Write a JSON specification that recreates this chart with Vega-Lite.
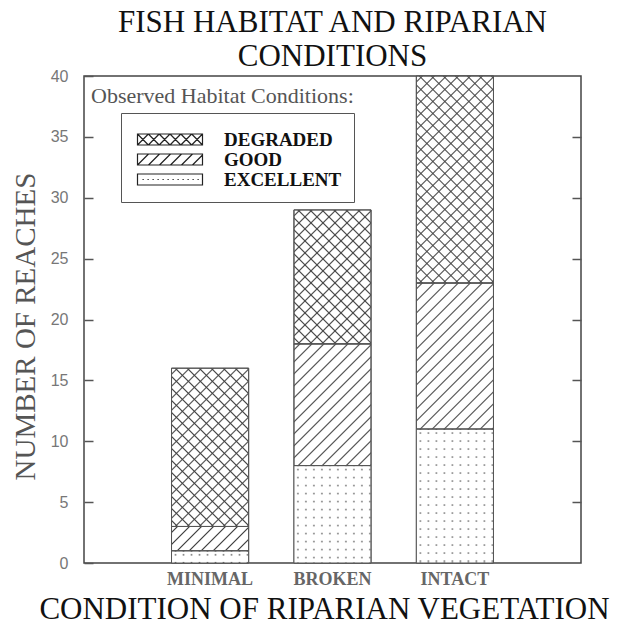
{
  "$schema": "https://vega.github.io/schema/vega-lite/v6.json",
  "width": 497,
  "height": 487,
  "padding": {"left": 11, "top": 7, "right": 10, "bottom": 4},
  "config": {"view": {"stroke": "#444", "strokeWidth": 1.5}, "font": "Liberation Serif"},
  "title": {"text": ["FISH HABITAT AND RIPARIAN", "CONDITIONS"], "font": "Liberation Serif", "fontSize": 31, "fontWeight": "normal", "color": "#111", "lineHeight": 34, "offset": -5, "anchor": "middle"},
  "params": [
    {"name": "hatchWhite", "value": [
      {"offset":0.015,"color":"#fff"},{"offset":0.02,"color":"#444"},{"offset":0.025,"color":"#fff"},
      {"offset":0.055,"color":"#fff"},{"offset":0.06,"color":"#444"},{"offset":0.065,"color":"#fff"},
      {"offset":0.095,"color":"#fff"},{"offset":0.1,"color":"#444"},{"offset":0.105,"color":"#fff"},
      {"offset":0.135,"color":"#fff"},{"offset":0.14,"color":"#444"},{"offset":0.145,"color":"#fff"},
      {"offset":0.175,"color":"#fff"},{"offset":0.18,"color":"#444"},{"offset":0.185,"color":"#fff"},
      {"offset":0.215,"color":"#fff"},{"offset":0.22,"color":"#444"},{"offset":0.225,"color":"#fff"},
      {"offset":0.255,"color":"#fff"},{"offset":0.26,"color":"#444"},{"offset":0.265,"color":"#fff"},
      {"offset":0.295,"color":"#fff"},{"offset":0.3,"color":"#444"},{"offset":0.305,"color":"#fff"},
      {"offset":0.335,"color":"#fff"},{"offset":0.34,"color":"#444"},{"offset":0.345,"color":"#fff"},
      {"offset":0.375,"color":"#fff"},{"offset":0.38,"color":"#444"},{"offset":0.385,"color":"#fff"},
      {"offset":0.415,"color":"#fff"},{"offset":0.42,"color":"#444"},{"offset":0.425,"color":"#fff"},
      {"offset":0.455,"color":"#fff"},{"offset":0.46,"color":"#444"},{"offset":0.465,"color":"#fff"},
      {"offset":0.495,"color":"#fff"},{"offset":0.5,"color":"#444"},{"offset":0.505,"color":"#fff"},
      {"offset":0.535,"color":"#fff"},{"offset":0.54,"color":"#444"},{"offset":0.545,"color":"#fff"},
      {"offset":0.575,"color":"#fff"},{"offset":0.58,"color":"#444"},{"offset":0.585,"color":"#fff"},
      {"offset":0.615,"color":"#fff"},{"offset":0.62,"color":"#444"},{"offset":0.625,"color":"#fff"},
      {"offset":0.655,"color":"#fff"},{"offset":0.66,"color":"#444"},{"offset":0.665,"color":"#fff"},
      {"offset":0.695,"color":"#fff"},{"offset":0.7,"color":"#444"},{"offset":0.705,"color":"#fff"},
      {"offset":0.735,"color":"#fff"},{"offset":0.74,"color":"#444"},{"offset":0.745,"color":"#fff"},
      {"offset":0.775,"color":"#fff"},{"offset":0.78,"color":"#444"},{"offset":0.785,"color":"#fff"},
      {"offset":0.815,"color":"#fff"},{"offset":0.82,"color":"#444"},{"offset":0.825,"color":"#fff"},
      {"offset":0.855,"color":"#fff"},{"offset":0.86,"color":"#444"},{"offset":0.865,"color":"#fff"},
      {"offset":0.895,"color":"#fff"},{"offset":0.9,"color":"#444"},{"offset":0.905,"color":"#fff"},
      {"offset":0.935,"color":"#fff"},{"offset":0.94,"color":"#444"},{"offset":0.945,"color":"#fff"},
      {"offset":0.975,"color":"#fff"},{"offset":0.98,"color":"#444"},{"offset":0.985,"color":"#fff"}
    ]},
    {"name": "hatchClear", "value": [
      {"offset":0.015,"color":"rgba(68,68,68,0)"},{"offset":0.02,"color":"#444"},{"offset":0.025,"color":"rgba(68,68,68,0)"},
      {"offset":0.055,"color":"rgba(68,68,68,0)"},{"offset":0.06,"color":"#444"},{"offset":0.065,"color":"rgba(68,68,68,0)"},
      {"offset":0.095,"color":"rgba(68,68,68,0)"},{"offset":0.1,"color":"#444"},{"offset":0.105,"color":"rgba(68,68,68,0)"},
      {"offset":0.135,"color":"rgba(68,68,68,0)"},{"offset":0.14,"color":"#444"},{"offset":0.145,"color":"rgba(68,68,68,0)"},
      {"offset":0.175,"color":"rgba(68,68,68,0)"},{"offset":0.18,"color":"#444"},{"offset":0.185,"color":"rgba(68,68,68,0)"},
      {"offset":0.215,"color":"rgba(68,68,68,0)"},{"offset":0.22,"color":"#444"},{"offset":0.225,"color":"rgba(68,68,68,0)"},
      {"offset":0.255,"color":"rgba(68,68,68,0)"},{"offset":0.26,"color":"#444"},{"offset":0.265,"color":"rgba(68,68,68,0)"},
      {"offset":0.295,"color":"rgba(68,68,68,0)"},{"offset":0.3,"color":"#444"},{"offset":0.305,"color":"rgba(68,68,68,0)"},
      {"offset":0.335,"color":"rgba(68,68,68,0)"},{"offset":0.34,"color":"#444"},{"offset":0.345,"color":"rgba(68,68,68,0)"},
      {"offset":0.375,"color":"rgba(68,68,68,0)"},{"offset":0.38,"color":"#444"},{"offset":0.385,"color":"rgba(68,68,68,0)"},
      {"offset":0.415,"color":"rgba(68,68,68,0)"},{"offset":0.42,"color":"#444"},{"offset":0.425,"color":"rgba(68,68,68,0)"},
      {"offset":0.455,"color":"rgba(68,68,68,0)"},{"offset":0.46,"color":"#444"},{"offset":0.465,"color":"rgba(68,68,68,0)"},
      {"offset":0.495,"color":"rgba(68,68,68,0)"},{"offset":0.5,"color":"#444"},{"offset":0.505,"color":"rgba(68,68,68,0)"},
      {"offset":0.535,"color":"rgba(68,68,68,0)"},{"offset":0.54,"color":"#444"},{"offset":0.545,"color":"rgba(68,68,68,0)"},
      {"offset":0.575,"color":"rgba(68,68,68,0)"},{"offset":0.58,"color":"#444"},{"offset":0.585,"color":"rgba(68,68,68,0)"},
      {"offset":0.615,"color":"rgba(68,68,68,0)"},{"offset":0.62,"color":"#444"},{"offset":0.625,"color":"rgba(68,68,68,0)"},
      {"offset":0.655,"color":"rgba(68,68,68,0)"},{"offset":0.66,"color":"#444"},{"offset":0.665,"color":"rgba(68,68,68,0)"},
      {"offset":0.695,"color":"rgba(68,68,68,0)"},{"offset":0.7,"color":"#444"},{"offset":0.705,"color":"rgba(68,68,68,0)"},
      {"offset":0.735,"color":"rgba(68,68,68,0)"},{"offset":0.74,"color":"#444"},{"offset":0.745,"color":"rgba(68,68,68,0)"},
      {"offset":0.775,"color":"rgba(68,68,68,0)"},{"offset":0.78,"color":"#444"},{"offset":0.785,"color":"rgba(68,68,68,0)"},
      {"offset":0.815,"color":"rgba(68,68,68,0)"},{"offset":0.82,"color":"#444"},{"offset":0.825,"color":"rgba(68,68,68,0)"},
      {"offset":0.855,"color":"rgba(68,68,68,0)"},{"offset":0.86,"color":"#444"},{"offset":0.865,"color":"rgba(68,68,68,0)"},
      {"offset":0.895,"color":"rgba(68,68,68,0)"},{"offset":0.9,"color":"#444"},{"offset":0.905,"color":"rgba(68,68,68,0)"},
      {"offset":0.935,"color":"rgba(68,68,68,0)"},{"offset":0.94,"color":"#444"},{"offset":0.945,"color":"rgba(68,68,68,0)"},
      {"offset":0.975,"color":"rgba(68,68,68,0)"},{"offset":0.98,"color":"#444"},{"offset":0.985,"color":"rgba(68,68,68,0)"}
    ]},
    {"name": "dotRows", "value": [
      {"offset":0.016,"color":"#fff"},{"offset":0.025,"color":"#666"},{"offset":0.034,"color":"#fff"},
      {"offset":0.066,"color":"#fff"},{"offset":0.075,"color":"#666"},{"offset":0.084,"color":"#fff"},
      {"offset":0.116,"color":"#fff"},{"offset":0.125,"color":"#666"},{"offset":0.134,"color":"#fff"},
      {"offset":0.166,"color":"#fff"},{"offset":0.175,"color":"#666"},{"offset":0.184,"color":"#fff"},
      {"offset":0.216,"color":"#fff"},{"offset":0.225,"color":"#666"},{"offset":0.234,"color":"#fff"},
      {"offset":0.266,"color":"#fff"},{"offset":0.275,"color":"#666"},{"offset":0.284,"color":"#fff"},
      {"offset":0.316,"color":"#fff"},{"offset":0.325,"color":"#666"},{"offset":0.334,"color":"#fff"},
      {"offset":0.366,"color":"#fff"},{"offset":0.375,"color":"#666"},{"offset":0.384,"color":"#fff"},
      {"offset":0.416,"color":"#fff"},{"offset":0.425,"color":"#666"},{"offset":0.434,"color":"#fff"},
      {"offset":0.466,"color":"#fff"},{"offset":0.475,"color":"#666"},{"offset":0.484,"color":"#fff"},
      {"offset":0.516,"color":"#fff"},{"offset":0.525,"color":"#666"},{"offset":0.534,"color":"#fff"},
      {"offset":0.566,"color":"#fff"},{"offset":0.575,"color":"#666"},{"offset":0.584,"color":"#fff"},
      {"offset":0.616,"color":"#fff"},{"offset":0.625,"color":"#666"},{"offset":0.634,"color":"#fff"},
      {"offset":0.666,"color":"#fff"},{"offset":0.675,"color":"#666"},{"offset":0.684,"color":"#fff"},
      {"offset":0.716,"color":"#fff"},{"offset":0.725,"color":"#666"},{"offset":0.734,"color":"#fff"},
      {"offset":0.766,"color":"#fff"},{"offset":0.775,"color":"#666"},{"offset":0.784,"color":"#fff"},
      {"offset":0.816,"color":"#fff"},{"offset":0.825,"color":"#666"},{"offset":0.834,"color":"#fff"},
      {"offset":0.866,"color":"#fff"},{"offset":0.875,"color":"#666"},{"offset":0.884,"color":"#fff"},
      {"offset":0.916,"color":"#fff"},{"offset":0.925,"color":"#666"},{"offset":0.934,"color":"#fff"},
      {"offset":0.966,"color":"#fff"},{"offset":0.975,"color":"#666"},{"offset":0.984,"color":"#fff"}
    ]},
    {"name": "dotMask", "value": [
      {"offset":0.031,"color":"#fff"},{"offset":0.05,"color":"rgba(255,255,255,0)"},{"offset":0.069,"color":"#fff"},
      {"offset":0.131,"color":"#fff"},{"offset":0.15,"color":"rgba(255,255,255,0)"},{"offset":0.169,"color":"#fff"},
      {"offset":0.231,"color":"#fff"},{"offset":0.25,"color":"rgba(255,255,255,0)"},{"offset":0.269,"color":"#fff"},
      {"offset":0.331,"color":"#fff"},{"offset":0.35,"color":"rgba(255,255,255,0)"},{"offset":0.369,"color":"#fff"},
      {"offset":0.431,"color":"#fff"},{"offset":0.45,"color":"rgba(255,255,255,0)"},{"offset":0.469,"color":"#fff"},
      {"offset":0.531,"color":"#fff"},{"offset":0.55,"color":"rgba(255,255,255,0)"},{"offset":0.569,"color":"#fff"},
      {"offset":0.631,"color":"#fff"},{"offset":0.65,"color":"rgba(255,255,255,0)"},{"offset":0.669,"color":"#fff"},
      {"offset":0.731,"color":"#fff"},{"offset":0.75,"color":"rgba(255,255,255,0)"},{"offset":0.769,"color":"#fff"},
      {"offset":0.831,"color":"#fff"},{"offset":0.85,"color":"rgba(255,255,255,0)"},{"offset":0.869,"color":"#fff"},
      {"offset":0.931,"color":"#fff"},{"offset":0.95,"color":"rgba(255,255,255,0)"},{"offset":0.969,"color":"#fff"}
    ]}
  ],
  "data": {"values": [
    {"vegetation": "MINIMAL", "habitat": "EXCELLENT", "rank": 1, "n": 1},
    {"vegetation": "MINIMAL", "habitat": "GOOD", "rank": 2, "n": 2},
    {"vegetation": "MINIMAL", "habitat": "DEGRADED", "rank": 3, "n": 13},
    {"vegetation": "BROKEN", "habitat": "EXCELLENT", "rank": 1, "n": 8},
    {"vegetation": "BROKEN", "habitat": "GOOD", "rank": 2, "n": 10},
    {"vegetation": "BROKEN", "habitat": "DEGRADED", "rank": 3, "n": 11},
    {"vegetation": "INTACT", "habitat": "EXCELLENT", "rank": 1, "n": 11},
    {"vegetation": "INTACT", "habitat": "GOOD", "rank": 2, "n": 12},
    {"vegetation": "INTACT", "habitat": "DEGRADED", "rank": 3, "n": 17}
  ]},
  "encoding": {
    "x": {
      "field": "vegetation", "type": "nominal",
      "scale": {"domain": ["MINIMAL", "BROKEN", "INTACT"], "paddingInner": 0.37, "paddingOuter": 0.715},
      "title": "CONDITION OF RIPARIAN VEGETATION",
      "axis": {"labelAngle": 0, "ticks": false, "tickSize": 0, "domain": false, "labelFont": "Liberation Serif", "labelFontSize": 18, "labelFontWeight": "bold", "labelColor": "#666", "labelPadding": 7, "titleFont": "Liberation Serif", "titleFontSize": 31, "titleFontWeight": "normal", "titleColor": "#111", "titlePadding": 6, "titleX": 240}
    }
  },
  "layer": [
    {
      "mark": {"type": "point", "filled": false, "stroke": "#222", "strokeWidth": 1.2, "opacity": 1, "size": 100, "xOffset": -27.5},
      "encoding": {
        "y": {"field": "n", "type": "quantitative", "scale": {"domain": [0, 40], "nice": false},
          "axis": {"orient": "left", "title": "NUMBER OF REACHES", "titleY": 250, "values": [0, 5, 10, 15, 20, 25, 30, 35, 40], "labelFlush": false, "labelFont": "Liberation Sans", "labelFontSize": 16, "labelColor": "#777", "labelPadding": 25, "tickSize": -9, "tickColor": "#555", "tickWidth": 1.5, "domain": false, "grid": false, "titleFont": "Liberation Serif", "titleFontSize": 29, "titleFontWeight": "normal", "titleColor": "#555", "titlePadding": 10}},
        "shape": {"field": "habitat", "type": "nominal",
          "scale": {"domain": ["DEGRADED", "GOOD", "EXCELLENT"], "range": [
            "M-1,-1.1H12V1.1H-1Z M-1,-1.1L1.167,1.1M-1,1.1L1.167,-1.1M1.167,-1.1L3.333,1.1M1.167,1.1L3.333,-1.1M3.333,-1.1L5.5,1.1M3.333,1.1L5.5,-1.1M5.5,-1.1L7.667,1.1M5.5,1.1L7.667,-1.1M7.667,-1.1L9.833,1.1M7.667,1.1L9.833,-1.1M9.833,-1.1L12,1.1M9.833,1.1L12,-1.1",
            "M-1,-1.1H12V1.1H-1Z M-1,1.1L1.2,-1.1M1.2,1.1L3.4,-1.1M3.4,1.1L5.6,-1.1M5.6,1.1L7.8,-1.1M7.8,1.1L10,-1.1M10,1.1L12,-0.9",
            "M-1,-1.1H12V1.1H-1Z M0,0h0.25M1,0h0.25M2,0h0.25M3,0h0.25M4,0h0.25M5,0h0.25M6,0h0.25M7,0h0.25M8,0h0.25M9,0h0.25M10,0h0.25M11,0h0.25"
          ]},
          "legend": {"title": " ", "titleFontSize": 5, "titlePadding": 0, "orient": "none", "legendX": 37, "legendY": 37, "padding": 12, "strokeColor": "#555", "symbolSize": 100, "symbolStrokeColor": "#222", "symbolStrokeWidth": 1.2, "symbolOpacity": 1, "labelFont": "Liberation Serif", "labelFontWeight": "bold", "labelFontSize": 19, "labelColor": "#111", "labelOffset": 72, "rowPadding": -3}},
        "strokeDash": {"field": "vegetation", "type": "nominal",
          "legend": {"title": "Observed Habitat Conditions:", "orient": "none", "legendX": 7, "legendY": 10, "padding": 0, "titleFont": "Liberation Serif", "titleFontSize": 22, "titleFontWeight": "normal", "titleColor": "#555", "titleLimit": 400, "symbolOpacity": 0, "labelOpacity": 0}}
      }
    },
    {
      "mark": {"type": "bar", "stroke": "#555", "strokeWidth": 1,
        "fill": {"expr": "datum.habitat === 'EXCELLENT' ? {gradient: 'linear', x1: 0, y1: 0, x2: 0, y2: 160 / max(1, abs(scale('y', datum.n_start) - scale('y', datum.n_end))), stops: dotRows} : {gradient: 'linear', x1: 0, y1: 0, x2: 300 * bandwidth('x') / (pow(bandwidth('x'), 2) + pow(scale('y', datum.n_start) - scale('y', datum.n_end), 2)), y2: 300 * abs(scale('y', datum.n_start) - scale('y', datum.n_end)) / (pow(bandwidth('x'), 2) + pow(scale('y', datum.n_start) - scale('y', datum.n_end), 2)), stops: hatchWhite}"}},
      "encoding": {
        "y": {"field": "n", "type": "quantitative", "stack": "zero", "scale": {"domain": [0, 40], "nice": false},
          "axis": {"orient": "right", "title": null, "labels": false, "values": [5, 10, 15, 20, 25, 30, 35], "tickSize": -9, "tickColor": "#555", "tickWidth": 1.5, "domain": false, "grid": false}},
        "detail": {"field": "habitat"},
        "order": {"field": "rank", "type": "quantitative"}
      }
    },
    {
      "mark": {"type": "bar", "stroke": "#555", "strokeWidth": 1,
        "fill": {"expr": "datum.habitat === 'DEGRADED' ? {gradient: 'linear', x1: 0, y1: 1, x2: 300 * bandwidth('x') / (pow(bandwidth('x'), 2) + pow(scale('y', datum.n_start) - scale('y', datum.n_end), 2)), y2: 1 - 300 * abs(scale('y', datum.n_start) - scale('y', datum.n_end)) / (pow(bandwidth('x'), 2) + pow(scale('y', datum.n_start) - scale('y', datum.n_end), 2)), stops: hatchClear} : datum.habitat === 'EXCELLENT' ? {gradient: 'linear', x1: 0, y1: 0, x2: 80 / bandwidth('x'), y2: 0, stops: dotMask} : 'transparent'"}},
      "encoding": {
        "y": {"field": "n", "type": "quantitative", "stack": "zero", "scale": {"domain": [0, 40], "nice": false}, "axis": null},
        "detail": {"field": "habitat"},
        "order": {"field": "rank", "type": "quantitative"}
      }
    }
  ],
  "resolve": {"axis": {"y": "independent"}}
}
